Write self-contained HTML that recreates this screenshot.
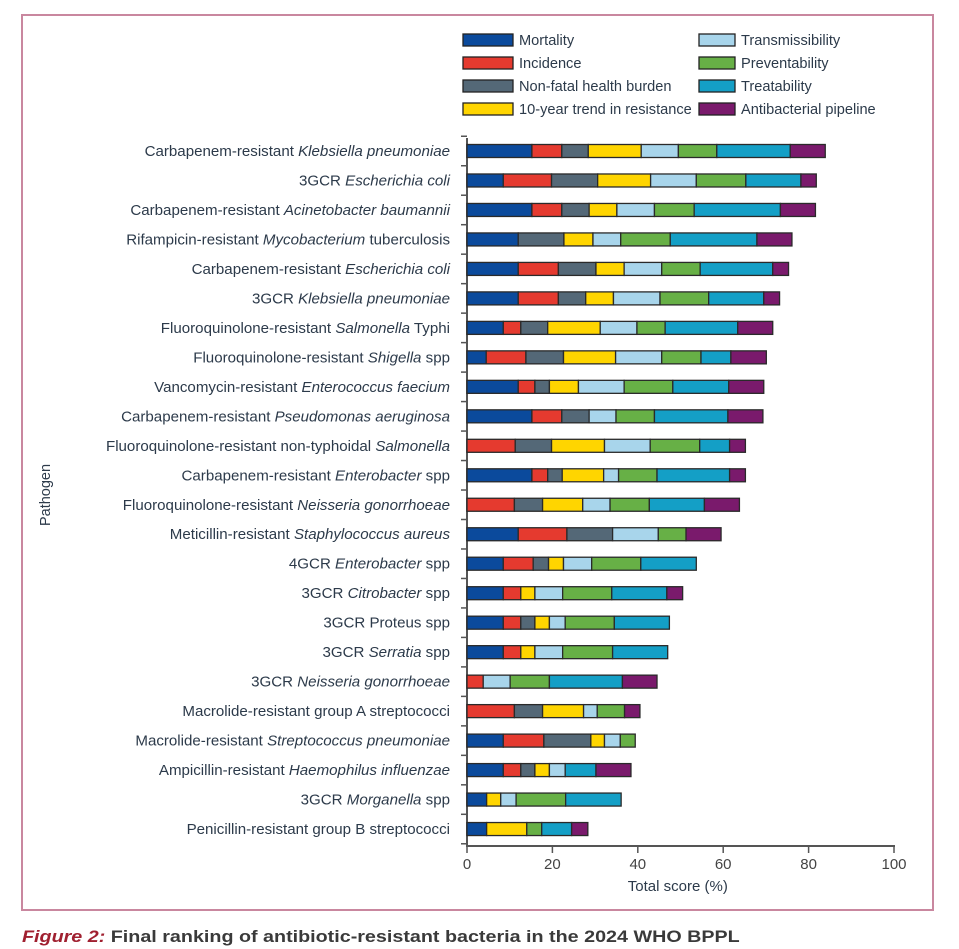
<!DOCTYPE html>
<html><head><meta charset="utf-8"><style>
body{margin:0;background:#fff;width:959px;height:949px;overflow:hidden;font-family:"Liberation Sans",sans-serif}
#frame{position:absolute;left:21px;top:14px;width:913px;height:897px;border:2px solid #c9879f;box-sizing:border-box}
#cap{position:absolute;left:22px;top:927px;font-size:17px;font-weight:bold;color:#3a3a3a;white-space:nowrap;transform:scaleX(1.16);transform-origin:left}
#cap i{color:#a02030}
</style></head><body>
<div id="frame"></div>
<svg id="chart" width="959" height="949" style="position:absolute;left:0;top:0"></svg>
<div id="cap"><i>Figure 2:</i> Final ranking of antibiotic-resistant bacteria in the 2024 WHO BPPL</div>
<script>
const seriesNames=["Mortality","Incidence","Non-fatal health burden","10-year trend in resistance","Transmissibility","Preventability","Treatability","Antibacterial pipeline"];
const colors=["#0b4a9c","#e53a2f","#546877","#ffd500","#a8d5eb","#67b046","#149fc6","#7a1a6c"];
const pathogens=[
["Carbapenem-resistant ","Klebsiella pneumoniae",""],
["3GCR ","Escherichia coli",""],
["Carbapenem-resistant ","Acinetobacter baumannii",""],
["Rifampicin-resistant ","Mycobacterium"," tuberculosis"],
["Carbapenem-resistant ","Escherichia coli",""],
["3GCR ","Klebsiella pneumoniae",""],
["Fluoroquinolone-resistant ","Salmonella"," Typhi"],
["Fluoroquinolone-resistant ","Shigella"," spp"],
["Vancomycin-resistant ","Enterococcus faecium",""],
["Carbapenem-resistant ","Pseudomonas aeruginosa",""],
["Fluoroquinolone-resistant non-typhoidal ","Salmonella",""],
["Carbapenem-resistant ","Enterobacter"," spp"],
["Fluoroquinolone-resistant ","Neisseria gonorrhoeae",""],
["Meticillin-resistant ","Staphylococcus aureus",""],
["4GCR ","Enterobacter"," spp"],
["3GCR ","Citrobacter"," spp"],
["3GCR Proteus spp","",""],
["3GCR ","Serratia"," spp"],
["3GCR ","Neisseria gonorrhoeae",""],
["Macrolide-resistant group A streptococci","",""],
["Macrolide-resistant ","Streptococcus pneumoniae",""],
["Ampicillin-resistant ","Haemophilus influenzae",""],
["3GCR ","Morganella"," spp"],
["Penicillin-resistant group B streptococci","",""]];
const mortality=[15.2,8.5,15.2,12,12,12,8.5,4.5,12,15.2,0,15.2,0,12,8.5,8.5,8.5,8.5,0,0,8.5,8.5,4.6,4.6];
const incidence=[7,11.3,7,0,9.4,9.4,4.1,9.3,3.9,7,11.3,3.7,11.1,11.4,7,4.1,4.1,4.1,3.8,11.1,9.5,4.1,0,0];
const nonfatal=[6.2,10.8,6.4,10.7,8.8,6.4,6.3,8.8,3.4,6.4,8.5,3.4,6.6,10.7,3.6,0,3.3,0,0,6.6,11,3.3,0,0];
const trend=[12.4,12.4,6.5,6.8,6.6,6.5,12.3,12.2,6.8,0,12.4,9.7,9.4,0,3.5,3.3,3.4,3.3,0,9.6,3.2,3.4,3.3,9.4];
const transmissibility=[8.7,10.7,8.8,6.5,8.8,10.9,8.6,10.8,10.7,6.3,10.7,3.5,6.4,10.7,6.6,6.5,3.7,6.5,6.3,3.2,3.7,3.7,3.6,0];
const preventability=[9,11.6,9.3,11.6,9,11.4,6.6,9.2,11.4,9,11.6,9,9.2,6.5,11.5,11.5,11.5,11.7,9.2,6.4,3.5,0,11.6,3.5];
const treatability=[17.2,12.9,20.2,20.3,17,12.9,17,7,13.1,17.2,7,17,12.9,0,13,12.9,12.9,12.9,17.1,0,0,7.2,13,7];
const pipeline=[8.2,3.6,8.2,8.2,3.7,3.7,8.2,8.3,8.2,8.2,3.7,3.7,8.2,8.2,0,3.7,0,0,8.1,3.6,0,8.2,0,3.8];
const xTicks=[0,20,40,60,80,100];
const series=[mortality,incidence,nonfatal,trend,transmissibility,preventability,treatability,pipeline];
const svg=document.getElementById('chart');const NS="http://www.w3.org/2000/svg";
const X0=467,X1=894,Y0=151,DY=29.48;
const x=v=>X0+(X1-X0)*v/100;const y=i=>Y0+i*DY;
function mk(t,a,p){const e=document.createElementNS(NS,t);for(const k in a)e.setAttribute(k,a[k]);(p||svg).appendChild(e);return e;}
const txt="#2c3a4a";
const legX=[463,699],legY=[40,63,86,109];
seriesNames.forEach((n,i)=>{const c=i<4?0:1,r=i%4;
const g=mk('g',{});


mk('rect',{x:legX[c],y:legY[r]-6,width:c?36:50,height:12,fill:colors[i],stroke:"#222","stroke-width":1.3},g);
const t=mk('text',{x:legX[c]+(c?42:56),y:legY[r]+5,"font-size":14.6,fill:txt},g);t.textContent=n;});
const ax=mk('line',{x1:X0,y1:138,x2:X0,y2:846,stroke:"#555","stroke-width":2});

const xa=mk('line',{x1:X0-1,y1:846,x2:X1+1,y2:846,stroke:"#555","stroke-width":2});

for(let i=0;i<=pathogens.length;i++){mk('line',{x1:X0-6,x2:X0,y1:y(i)-DY/2,y2:y(i)-DY/2,stroke:"#555","stroke-width":1.5});}
xTicks.forEach(v=>{mk('line',{x1:x(v),x2:x(v),y1:846,y2:853,stroke:"#555","stroke-width":1.5});
const t=mk('text',{x:x(v),y:869,"font-size":15,fill:"#444","text-anchor":"middle"});
t.textContent=v;});
const xt=mk('text',{x:x(40)+40,y:891,"font-size":15,fill:txt,"text-anchor":"middle"});
xt.textContent="Total score (%)";
const yt=mk('text',{x:0,y:0,"font-size":14.5,fill:txt,"text-anchor":"middle",transform:"translate(50,495) rotate(-90)"});
yt.textContent="Pathogen";
pathogens.forEach((p,i)=>{
const t=mk('text',{x:450,y:y(i)+5,"font-size":15.1,fill:txt,"text-anchor":"end"});

const a=mk('tspan',{},t);a.textContent=p[0];
if(p[1]){const b=mk('tspan',{"font-style":"italic"},t);b.textContent=p[1];}
if(p[2]){const c=mk('tspan',{},t);c.textContent=p[2];}
let acc=0;
series.forEach((s,k)=>{const v=s[i];if(v>0){
const r=mk('rect',{x:x(acc),y:y(i)-6.5,width:x(acc+v)-x(acc),height:13,fill:colors[k],stroke:"#2a2a2a","stroke-width":1.3});


}acc+=v;});
});
</script>
</body></html>
